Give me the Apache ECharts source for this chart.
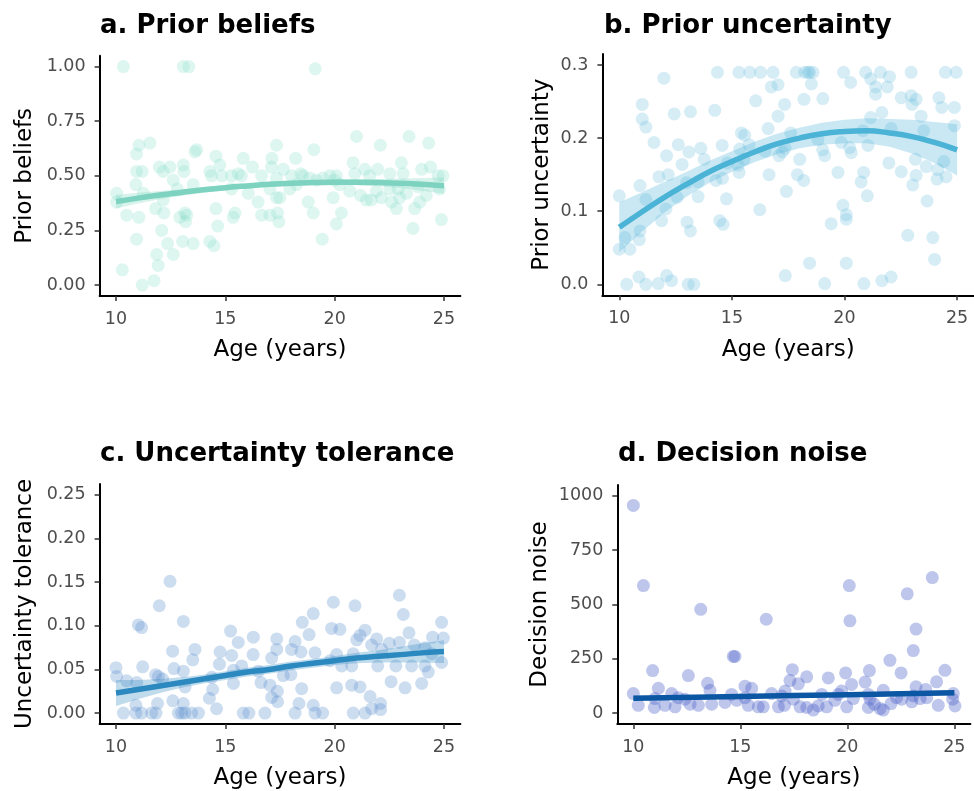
<!DOCTYPE html>
<html><head><meta charset="utf-8">
<script src="https://cdn.jsdelivr.net/npm/echarts@6/dist/echarts.min.js"></script>
<style>html,body{margin:0;padding:0;background:#fff}#c{width:974px;height:791px}</style>
</head><body><div id="c"></div>
<script>
// ---------- data ----------
const xTicks = [10, 15, 20, 25];
const yTicksA = [0, 0.25, 0.5, 0.75, 1];
const yTicksB = [0, 0.1, 0.2, 0.3];
const yTicksC = [0, 0.05, 0.1, 0.15, 0.2, 0.25];
const yTicksD = [0, 250, 500, 750, 1000];

const titles = ['a. Prior beliefs', 'b. Prior uncertainty', 'c. Uncertainty tolerance', 'd. Decision noise'];
const yNames = ['Prior beliefs', 'Prior uncertainty', 'Uncertainty tolerance', 'Decision noise'];
const xName = 'Age (years)';

const pointsA = [[10.34,1.0],[13.08,1.0],[13.33,1.0],[19.11,0.99],[21.0,0.68],[23.4,0.68],[24.3,0.65],[22.09,0.64],[11.55,0.65],[11.05,0.64],[10.94,0.60],[13.69,0.62],[13.61,0.61],[19.05,0.62],[17.34,0.64],[15.82,0.58],[14.57,0.59],[18.22,0.58],[17.13,0.58],
[11.98,0.54],[12.47,0.54],[13.08,0.55],[14.75,0.55],[16.24,0.54],[17.11,0.54],[17.65,0.53],[20.84,0.56],[21.38,0.53],[21.97,0.53],[23.05,0.56],[23.98,0.53],[24.38,0.54],
[10.94,0.52],[11.2,0.52],[12.16,0.52],[13.11,0.52],[14.29,0.52],[14.37,0.50],[14.83,0.50],[15.28,0.50],[15.59,0.51],[15.74,0.50],[16.66,0.50],[17.34,0.49],[18.03,0.50],[18.45,0.51],[18.56,0.50],[19.78,0.50],[20.08,0.50],[20.92,0.51],[21.6,0.50],[22.52,0.51],[23.13,0.51],[24.73,0.50],[24.95,0.50],
[12.62,0.48],[13.53,0.46],[10.91,0.46],[10.03,0.42],[11.25,0.42],[12.8,0.44],[15.28,0.44],[16.05,0.42],[17.04,0.44],[17.95,0.44],[18.25,0.46],[19.17,0.48],[20.0,0.48],[20.23,0.46],[20.69,0.43],[21.18,0.41],[21.45,0.39],[21.68,0.39],[21.91,0.43],[22.14,0.40],[22.52,0.44],[22.9,0.44],[23.28,0.42],[23.81,0.45],[24.19,0.41],[24.8,0.44],[18.86,0.49],[19.47,0.49],
[10.03,0.38],[11.81,0.35],[12.16,0.39],[16.5,0.38],[17.34,0.40],[17.49,0.40],[18.79,0.38],[19.93,0.40],[22.6,0.38],[22.82,0.35],[22.97,0.40],[23.66,0.35],[23.89,0.38],
[10.49,0.32],[11.05,0.31],[12.19,0.33],[12.92,0.31],[13.15,0.33],[13.23,0.32],[13.18,0.29],[14.57,0.35],[15.36,0.31],[15.44,0.33],[16.66,0.32],[17.04,0.32],[17.39,0.33],[17.45,0.29],[19.02,0.33],[20.31,0.33],[20.08,0.28],[14.65,0.27],[24.88,0.30],[12.09,0.25],[23.58,0.26],
[10.94,0.21],[13.05,0.20],[13.53,0.19],[14.29,0.20],[14.48,0.18],[12.36,0.19],[19.43,0.21],[11.86,0.14],[12.62,0.14],[11.93,0.09],[10.29,0.07],[11.74,0.02],[11.2,0.00]];

const pointsB = [[14.36,0.29],[15.31,0.29],[15.79,0.29],[16.27,0.29],[16.83,0.29],[17.86,0.29],[18.23,0.29],[18.38,0.29],[18.45,0.29],[18.6,0.29],[19.96,0.29],[20.94,0.29],[21.6,0.29],[22.96,0.29],[24.48,0.29],[24.96,0.29],
[11.98,0.282],[22.0,0.284],[21.16,0.281],[20.27,0.276],[18.53,0.274],[16.75,0.270],[17.05,0.273],[21.38,0.270],[21.9,0.270],[21.38,0.260],[16.06,0.251],[18.2,0.253],[19.04,0.254],[22.52,0.255],[22.96,0.258],[23.18,0.253],[23.0,0.246],[24.19,0.255],[24.32,0.242],[24.88,0.242],
[11.02,0.246],[17.34,0.246],[12.44,0.233],[13.16,0.236],[14.24,0.238],[17.05,0.230],[21.16,0.228],[21.66,0.235],[23.4,0.230],[11.02,0.226],[11.18,0.215],[16.61,0.213],[24.88,0.217],[22.07,0.213],[23.52,0.210],[20.82,0.210],
[15.42,0.207],[15.57,0.204],[17.61,0.207],[18.82,0.198],[19.86,0.194],[20.23,0.187],[20.3,0.180],[21.04,0.190],[11.54,0.194],[12.62,0.191],[13.09,0.181],[13.62,0.186],[14.57,0.190],[15.35,0.185],[15.76,0.191],[16.47,0.182],[17.36,0.186],[17.24,0.181],[19.03,0.184],[19.12,0.176],
[12.1,0.176],[12.79,0.164],[13.77,0.171],[14.8,0.166],[15.28,0.163],[15.54,0.171],[17.09,0.176],[18.01,0.171],[21.97,0.166],[23.15,0.171],[23.63,0.161],[24.14,0.157],[24.41,0.168],
[11.76,0.147],[12.17,0.150],[12.99,0.139],[13.5,0.140],[14.29,0.142],[14.58,0.145],[15.32,0.153],[16.65,0.150],[17.91,0.150],[18.19,0.142],[19.71,0.153],[20.85,0.153],[20.74,0.140],[22.52,0.154],[23.18,0.149],[23.03,0.136],[24.11,0.144],[24.51,0.147],
[10.92,0.135],[11.18,0.116],[12.57,0.119],[12.07,0.103],[13.5,0.120],[14.76,0.117],[17.42,0.127],[21.01,0.121],[23.67,0.114],[10.0,0.121],[16.24,0.102],[19.93,0.108],[20.08,0.095],[20.08,0.089],[19.41,0.083],
[11.88,0.087],[13.01,0.085],[13.16,0.073],[14.46,0.087],[14.61,0.082],[10.25,0.064],[10.92,0.073],[10.89,0.061],[10.0,0.048],[10.47,0.048],[22.81,0.067],[23.92,0.064],[24.0,0.034],[18.45,0.029],[20.08,0.029],
[17.37,0.012],[10.87,0.010],[12.1,0.012],[12.32,0.005],[11.18,0.0],[10.33,0.0],[11.73,0.001],[13.06,0.0],[13.31,0.0],[19.12,0.001],[20.86,0.001],[21.66,0.005],[22.07,0.010]];

const pointsC = [[12.47,0.151],[22.96,0.135],[19.94,0.127],[20.93,0.123],[11.98,0.123],[23.14,0.113],[19.02,0.114],[11.02,0.101],[11.17,0.098],[13.08,0.105],[18.52,0.104],[24.89,0.104],[15.24,0.094],[19.86,0.097],[20.24,0.096],[16.28,0.087],[18.83,0.090],[21.39,0.095],[21.16,0.089],[23.4,0.092],[24.48,0.087],[24.97,0.086],
[15.59,0.081],[17.35,0.085],[18.19,0.082],[21.92,0.085],[21.01,0.084],[22.96,0.081],[12.59,0.071],[13.61,0.073],[13.51,0.061],[14.76,0.070],[14.73,0.056],[15.29,0.066],[16.27,0.067],[17.12,0.063],[17.35,0.073],[18.03,0.073],[18.46,0.070],[19.1,0.069],[20.09,0.067],[20.85,0.068],[21.69,0.078],[22.15,0.073],[22.5,0.080],[23.64,0.078],[24.13,0.075],[24.44,0.068],[24.89,0.058],
[11.22,0.053],[10.0,0.052],[10.03,0.042],[12.65,0.051],[13.08,0.048],[13.16,0.030],[11.81,0.044],[11.94,0.042],[12.13,0.039],[10.95,0.035],[10.49,0.037],[14.38,0.041],[14.42,0.027],[14.27,0.017],[15.37,0.049],[15.37,0.034],[15.75,0.054],[16.51,0.048],[16.63,0.035],[17.04,0.032],[17.12,0.018],[17.38,0.025],[17.39,0.013],[17.65,0.043],[18.0,0.044],[18.49,0.028],[18.37,0.011],
[19.79,0.060],[20.32,0.054],[20.78,0.054],[21.97,0.054],[22.8,0.054],[23.52,0.054],[24.13,0.054],[24.28,0.047],[22.58,0.036],[23.22,0.029],[23.98,0.034],[20.09,0.029],[20.78,0.032],[21.16,0.030],[21.62,0.019],[22.1,0.011],[21.69,0.005],[22.1,0.004],[19.02,0.009],[14.6,0.005],[11.9,0.011],[12.6,0.014],[13.08,0.011],[10.91,0.009],
[10.34,0],[10.91,0],[11.17,0],[11.63,0],[11.83,0],[12.85,0],[13.0,0],[13.16,0],[13.46,0],[13.77,0],[15.82,0],[16.08,0],[16.81,0],[18.19,0],[19.1,0],[19.45,0],[20.85,0],[21.39,0]];

const pointsD = [[10.0,956],[10.47,587],[13.15,478],[16.21,432],[20.09,587],[20.12,425],[22.8,549],[23.97,624],[23.21,387],[23.08,288],[14.67,261],[14.75,261],[21.99,243],
[10.9,196],[12.57,173],[17.43,200],[21.03,196],[24.56,197],[19.92,185],[22.51,185],[17.32,150],[18.1,167],[19.11,162],[20.83,143],[24.17,144],
[11.17,114],[13.47,137],[15.22,124],[15.53,114],[20.2,132],[21.68,105],[23.21,121],[23.66,109],[10.0,90],[11.79,90],[13.58,105],[14.59,86],[16.46,90],[17.09,102],[17.71,135],[18.8,86],[19.73,102],[24.95,90],
[10.23,36],[10.98,26],[11.48,36],[11.95,29],[12.41,64],[12.65,41],[13.04,36],[13.66,41],[14.28,49],[14.83,59],[15.37,36],[15.84,29],[16.07,29],[16.78,29],[17.06,36],[17.79,29],[18.1,26],[18.41,14],[18.64,33],[19.03,29],[19.42,59],[19.97,29],[20.28,67],
[21.06,64],[21.26,41],[20.98,26],[21.53,21],[21.68,14],[22.04,44],[22.54,64],[23.01,52],[23.4,67],[23.71,71],[24.25,36],[24.92,64],[25.03,33],[11.01,67],[12.1,71],[15.22,71],[17.48,64],[16.93,79],[19.58,86],[20.98,86],[22.3,71],[23.08,79]];

// fitted curves (ages, fit, lower / upper band)
const fitAge = [10,11,12,13,14,15,16,17,18,19,20,21,22,23,24,25];
const fitA = [0.382,0.398,0.412,0.424,0.436,0.446,0.454,0.461,0.466,0.469,0.471,0.471,0.469,0.466,0.461,0.455];
const loA  = [0.350,0.373,0.393,0.409,0.423,0.434,0.442,0.449,0.454,0.457,0.458,0.457,0.452,0.444,0.432,0.418];
const hiA  = [0.414,0.423,0.431,0.439,0.449,0.458,0.466,0.473,0.478,0.481,0.484,0.485,0.486,0.488,0.490,0.492];
const fitB = [0.078,0.099,0.119,0.137,0.154,0.168,0.181,0.192,0.200,0.206,0.209,0.210,0.207,0.202,0.194,0.184];
const loB  = [0.044,0.072,0.098,0.120,0.139,0.154,0.167,0.178,0.186,0.191,0.193,0.193,0.188,0.179,0.166,0.149];
const hiB  = [0.112,0.126,0.140,0.154,0.169,0.182,0.195,0.206,0.214,0.221,0.225,0.227,0.226,0.225,0.222,0.219];
const fitC = [0.023,0.027,0.031,0.035,0.039,0.043,0.047,0.050,0.054,0.057,0.060,0.063,0.065,0.067,0.069,0.0705];
const loC  = [0.008,0.016,0.023,0.029,0.034,0.038,0.042,0.045,0.049,0.052,0.055,0.057,0.058,0.058,0.058,0.0575];
const hiC  = [0.038,0.038,0.039,0.041,0.044,0.048,0.052,0.055,0.059,0.062,0.065,0.069,0.072,0.076,0.080,0.0835];
const fitAgeD = [10,15,20,25];
const fitD = [68,77,85,94];
const loD  = [56,70,78,82];
const hiD  = [80,84,92,106];

// ---------- chart ----------
const FONT = 'DejaVu Sans';
const zip = (a, b) => a.map((v, i) => [v, b[i]]);

const panels = [
  {grid:{left:99.6, top:55.7, width:360.8, height:240.3}, ymin:-0.05, ymax:1.05, ticks:yTicksA, dec:2, nameGap:63,
   pts:pointsA, age:fitAge, fit:fitA, lo:loA, hi:hiA, line:'#7dd3c0', pt:'#86dcc8', ptOp:0.27, band:'#7dd3c0', titleLeft:100, titleTop:13},
  {grid:{left:602.4, top:54, width:371.6, height:241.3}, ymin:-0.015, ymax:0.315, ticks:yTicksB, dec:1, nameGap:49,
   pts:pointsB, age:fitAge, fit:fitB, lo:loB, hi:hiB, line:'#4bb3d6', pt:'#6cc0e0', ptOp:0.28, band:'#4bb3d6', titleLeft:604, titleTop:13},
  {grid:{left:99.6, top:484, width:360.8, height:240.5}, ymin:-0.0125, ymax:0.2625, ticks:yTicksC, dec:2, nameGap:63,
   pts:pointsC, age:fitAge, fit:fitC, lo:loC, hi:hiC, line:'#2b89bf', pt:'#5a8fcc', ptOp:0.3, band:'#2b89bf', titleLeft:100, titleTop:441},
  {grid:{left:617.3, top:485, width:353.1, height:240.7}, ymin:-50, ymax:1050, ticks:yTicksD, dec:0, nameGap:66,
   pts:pointsD, age:fitAgeD, fit:fitD, lo:loD, hi:hiD, line:'#0b57a4', pt:'#4a62c8', ptOp:0.36, band:'#0b57a4', titleLeft:618, titleTop:441}
];

const axisLine = {onZero:false, lineStyle:{color:'#000', width:2}};
const axisTickBase = {show:true, length:5, lineStyle:{color:'#333', width:1.5}};
const labelBase = {color:'#4d4d4d', fontSize:17.5, fontFamily:FONT, margin:14};

const option = {
  backgroundColor:'#fff',
  animation:false,
  title: panels.map((p, i) => ({text:titles[i], left:p.titleLeft, top:p.titleTop, padding:0,
    textStyle:{fontFamily:FONT, fontWeight:'bold', fontSize:26, color:'#000'}})),
  grid: panels.map(p => p.grid),
  xAxis: panels.map((p, i) => ({type:'value', gridIndex:i, min:9.25, max:25.75,
    name:xName, nameLocation:'middle', nameGap:43,
    nameTextStyle:{fontFamily:FONT, fontSize:23, color:'#000'},
    axisLine, axisTick:Object.assign({customValues:xTicks}, axisTickBase),
    axisLabel:Object.assign({customValues:xTicks}, labelBase),
    splitLine:{show:false}})),
  yAxis: panels.map((p, i) => ({type:'value', gridIndex:i, min:p.ymin, max:p.ymax,
    name:yNames[i], nameLocation:'middle', nameGap:p.nameGap,
    nameTextStyle:{fontFamily:FONT, fontSize:23, color:'#000'},
    axisLine, axisTick:Object.assign({customValues:p.ticks}, axisTickBase),
    axisLabel:Object.assign({customValues:p.ticks, formatter:v => Number(v).toFixed(p.dec)}, labelBase),
    splitLine:{show:false}})),
  series: []
};

panels.forEach((p, i) => {
  option.series.push({type:'scatter', xAxisIndex:i, yAxisIndex:i, data:p.pts, symbolSize:13,
    itemStyle:{color:p.pt, opacity:p.ptOp}, silent:true, z:2});
  option.series.push({type:'custom', xAxisIndex:i, yAxisIndex:i, data:[[p.age[0], p.lo[0]]], silent:true, z:3,
    renderItem:(params, api) => {
      const upper = p.age.map((a, k) => api.coord([a, p.hi[k]]));
      const lower = p.age.map((a, k) => api.coord([a, p.lo[k]])).reverse();
      return {type:'polygon', shape:{points:upper.concat(lower)}, style:{fill:p.band, opacity:0.3}};
    }});
  option.series.push({type:'line', xAxisIndex:i, yAxisIndex:i, data:zip(p.age, p.fit), z:4,
    symbol:'none', smooth:true, lineStyle:{color:p.line, width:5.5}, silent:true});
});

const chart = echarts.init(document.getElementById('c'), null, {renderer:'canvas'});
chart.setOption(option);
</script></body></html>
